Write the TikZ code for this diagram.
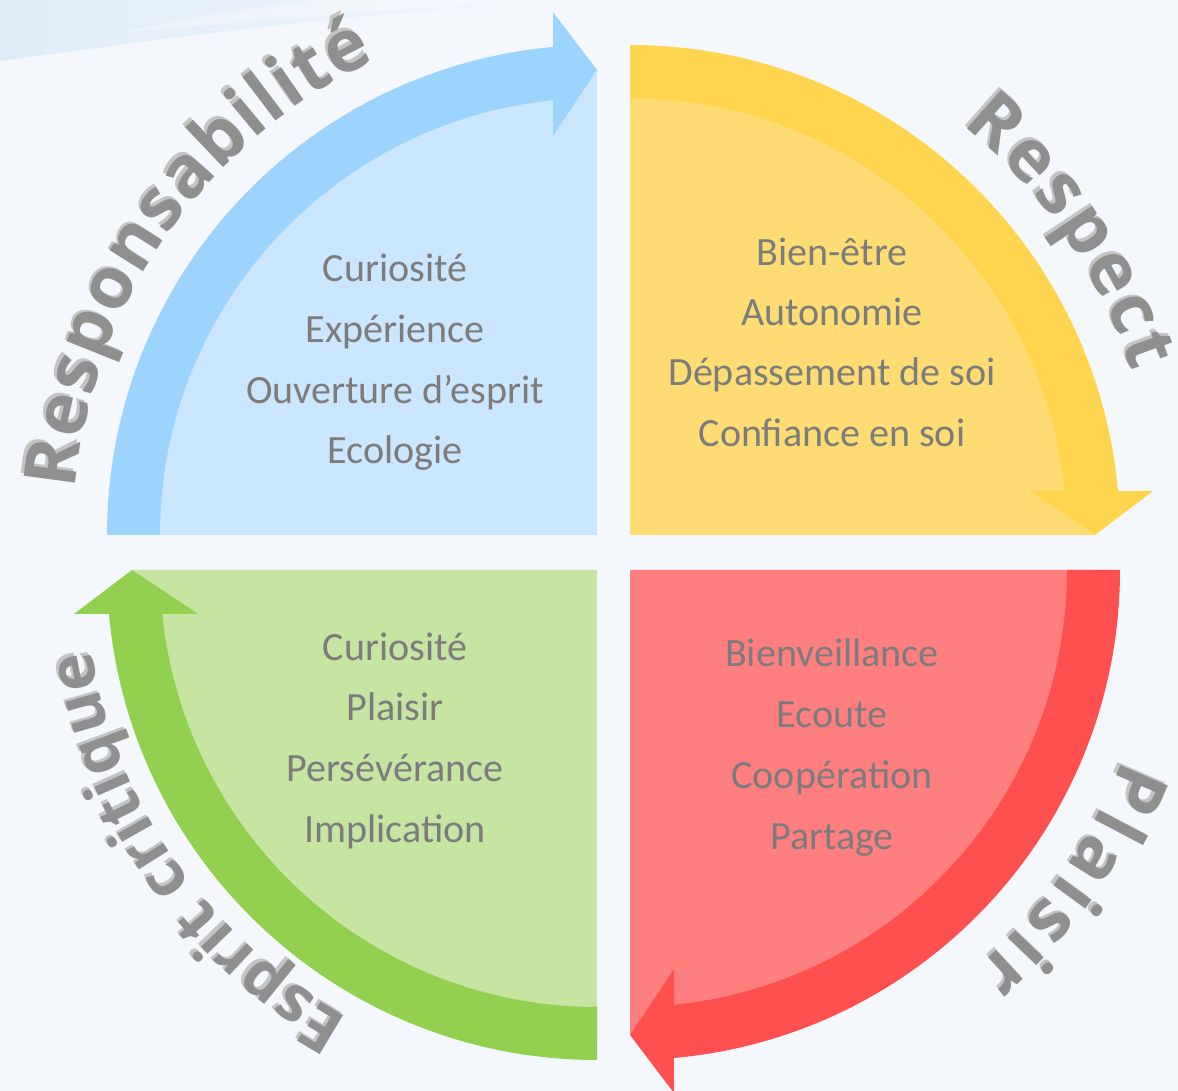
\documentclass[tikz,border=0pt]{standalone}
\usepackage{fontspec}
\setmainfont{Carlito}
\newfontfamily\titlefont{Open Sans}
\usetikzlibrary{decorations.text}
\definecolor{bgc}{HTML}{F4F8FC}
\definecolor{swoosh}{HTML}{DFECF7}
\definecolor{bluefill}{HTML}{CBE6FF}
\definecolor{blueband}{HTML}{9DD3FF}
\definecolor{yelfill}{HTML}{FFDC73}
\definecolor{yelband}{HTML}{FFD54F}
\definecolor{redfill}{HTML}{FF7F7F}
\definecolor{redband}{HTML}{FF5050}
\definecolor{grnfill}{HTML}{C6E5A2}
\definecolor{grnband}{HTML}{92D050}
\definecolor{itemgray}{HTML}{7C7C7C}
\definecolor{titlegray}{HTML}{8F8F8F}
\definecolor{titleshadow}{HTML}{C4C4C4}
\newcommand\titlebig{\titlefont\bfseries\fontsize{103}{108}\selectfont}
\newcommand\titlesmall{\titlefont\bfseries\fontsize{91}{96}\selectfont}
\newcommand\quadshape[4]{%
  \begin{scope}[shift={#1}, rotate=#2]
    \fill[#3] (0,0) -- (180:465) arc[start angle=180,end angle=90,radius=465] -- cycle;
    \fill[#4] (180:490) arc[start angle=180,end angle=95.15,radius=490]
      -- (-44,523) -- (0,465) -- (-44,399) -- (95.78:437)
      arc[start angle=95.78,end angle=180,radius=437] -- cycle;
  \end{scope}}
\newcommand\arctitle[6]{%
  \path[shift={#1}, shift={(-2.5,2.5)}, decorate,
    decoration={text along path, text={|#6|#5}, text color=titleshadow, text align={fit to path}}]
    (#3:#2) arc[start angle=#3, end angle=#4, radius=#2];
  \path[shift={#1}, decorate,
    decoration={text along path, text={|#6|#5}, text color=titlegray, text align={fit to path}}]
    (#3:#2) arc[start angle=#3, end angle=#4, radius=#2];}
\tikzset{
  item/.style={text=itemgray, font=\fontsize{57}{62}\selectfont, anchor=base, inner sep=0pt},
}
\begin{document}
\begin{tikzpicture}[x=0.05cm,y=0.05cm]
\useasboundingbox (0,0) rectangle (1178,1091);
\fill[bgc] (0,0) rectangle (1178,1091);
\clip (0,0) rectangle (1178,1091);
% background swoosh
\shade[left color=swoosh, right color=bgc] (0,1091) -- (0,1030) .. controls (150,1050) and (350,1080) .. (600,1091) -- cycle;
\fill[white, opacity=0.3] (120,1058) .. controls (250,1070) and (400,1083) .. (560,1091) -- (320,1091) .. controls (240,1082) and (170,1070) .. (120,1058) -- cycle;
% quadrants
\quadshape{(597,556)}{0}{bluefill}{blueband}
\quadshape{(630,556)}{-90}{yelfill}{yelband}
\quadshape{(630,521)}{-180}{redfill}{redband}
\quadshape{(597,521)}{-270}{grnfill}{grnband}
% curved titles
\arctitle{(597,556)}{524}{175}{115}{Responsabilité}{\titlebig}
\arctitle{(630,556)}{528}{51}{18}{Respect}{\titlebig}
\arctitle{(630,521)}{528}{-21}{-49}{Plaisir}{\titlebig}
\arctitle{(597,521)}{512}{-119}{-171}{Esprit critique}{\titlesmall}
% items
\node[item] (b1) at (395,809) {Curiosité};
\node[item] (b2) at (395,748) {Expérience};
\node[item] (b3) at (395,687) {Ouverture d’esprit};
\node[item] (b4) at (395,627) {Ecologie};
\node[item] (y1) at (832,825) {Bien-être};
\node[item] (y2) at (832,765) {Autonomie};
\node[item] (y3) at (832,705) {Dépassement de soi};
\node[item] (y4) at (832,644) {Confiance en soi};
\node[item] (r1) at (832,424) {Bienveillance};
\node[item] (r2) at (832,363) {Ecoute};
\node[item] (r3) at (832,302) {Coopération};
\node[item] (r4) at (832,241) {Partage};
\node[item] (g1) at (395,430) {Curiosité};
\node[item] (g2) at (395,370) {Plaisir};
\node[item] (g3) at (395,309) {Persévérance};
\node[item] (g4) at (395,248) {Implication};
\end{tikzpicture}
\end{document}
